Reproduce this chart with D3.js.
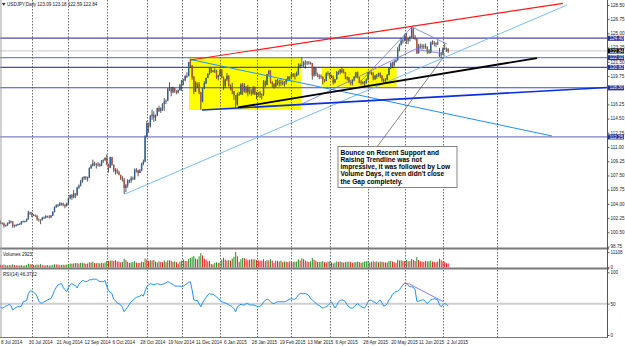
<!DOCTYPE html>
<html>
<head>
<meta charset="utf-8">
<script src="https://cdnjs.cloudflare.com/ajax/libs/d3/7.8.5/d3.min.js"></script>
<style>
  body { margin: 0; background: #fff; }
  svg { display: block; font-family: "Liberation Sans", Arial, sans-serif; }
</style>
</head>
<body>
<div id="chart"></div>
<script>
// ===========================================================
// DATA (USDJPY daily)
// ===========================================================
var dateLabels = ["8 Jul 2014", "30 Jul 2014", "21 Aug 2014", "12 Sep 2014", "6 Oct 2014", "28 Oct 2014",
    "19 Nov 2014", "11 Dec 2014", "6 Jan 2015", "28 Jan 2015", "19 Feb 2015", "13 Mar 2015", "6 Apr 2015",
    "28 Apr 2015", "20 May 2015", "11 Jun 2015", "2 Jul 2015"];
var dateIdx = [0, 16, 32, 48, 64, 80, 96, 112, 128, 144, 160, 176, 192, 208, 224, 240, 256];
var monthIdx = [18, 39, 61, 84, 104, 126, 147, 167, 189, 211, 232, 254, 285];

var priceTicks = [128.50, 126.75, 125.00, 123.25, 121.50, 119.75, 118.00, 116.25, 114.50, 112.75,
    111.00, 109.25, 107.50, 105.75, 104.00, 102.25, 100.50, 98.75];

var firstOpen = 101.60;
var gapOpens = [[252, 122.20]];

var closeP = [
    101.63, 101.60, 101.30, 101.33, 101.60, 101.75, 101.85, 101.30, 101.35, 101.40, 101.50, 101.50, 101.80, 101.85, 101.85, 102.10, 102.95, 102.80,
    102.60, 102.60, 102.55, 102.10, 102.05, 102.00, 102.30, 102.30, 102.50, 102.40, 102.35, 102.55, 103.00, 103.60, 103.80, 103.80, 104.05, 104.05, 103.85, 103.70, 104.10,
    104.70, 105.10, 104.80, 105.30, 105.10, 106.00, 106.25, 106.70, 107.15, 107.35, 107.20, 107.20, 108.40, 108.70, 109.00, 108.90, 108.85, 108.85, 108.70, 109.30, 109.40, 109.65,
    108.85, 108.45, 109.75, 108.80, 108.05, 108.15, 107.90, 107.60, 107.10, 107.00, 105.95, 106.30, 106.90, 106.90, 107.15, 107.05, 108.20, 108.15, 107.80, 108.10, 108.90, 109.20, 112.30,
    113.90, 113.55, 114.80, 115.00, 114.60, 114.90, 115.80, 115.45, 115.75, 116.30, 116.60, 116.70, 118.20, 118.25, 117.75, 118.30, 117.90, 117.70, 118.00, 118.65,
    119.25, 119.20, 119.75, 119.75, 121.45, 121.00, 119.60, 117.80, 118.90, 118.75, 117.75, 116.60, 118.25, 118.85, 119.50, 120.00, 120.80, 120.30, 120.40, 120.40, 119.60, 119.80,
    120.45, 119.60, 118.50, 119.30, 119.75, 118.55, 118.40, 117.90, 117.40, 116.25, 117.55, 117.55, 118.70, 117.90, 118.45, 117.75, 118.30, 117.90, 117.60, 118.30, 117.50,
    117.60, 117.70, 117.45, 117.50, 119.10, 118.65, 119.95, 120.40, 119.00, 118.75, 118.45, 119.25, 118.90, 118.95, 119.00, 118.85, 119.00, 119.30, 119.65, 119.55,
    120.00, 119.80, 119.75, 120.10, 120.80, 121.10, 121.10, 121.40, 121.35, 121.40, 121.35, 121.35, 119.80, 120.75, 120.00, 119.70, 119.75, 119.65, 119.25, 119.15, 120.05, 120.10,
    119.65, 119.75, 118.95, 119.35, 120.20, 120.20, 120.55, 120.25, 120.20, 119.45, 119.60, 119.00, 118.90, 119.20, 119.65, 120.20, 119.60, 118.90, 119.00, 118.90, 118.90, 119.35,
    120.20, 120.15, 120.15, 119.40, 119.75, 119.75, 120.10, 119.75, 119.20, 119.20, 119.30, 119.90, 120.70, 121.30, 121.05, 121.50, 121.70, 123.00, 123.60, 124.10, 124.10,
    124.75, 124.10, 124.30, 124.55, 125.60, 124.50, 124.35, 122.55, 123.45, 123.40, 123.40, 123.40, 123.35, 122.75, 122.60, 123.90, 123.85, 123.70, 123.75, 123.85, 122.50, 122.45,
    123.15, 123.15, 123.09, 122.84
];
var highP = [
    101.95, 101.75, 101.70, 101.45, 101.72, 102.00, 101.95, 101.85, 101.45, 101.50, 101.55, 101.65, 101.90, 101.95, 101.95, 102.20, 103.15, 103.05,
    103.00, 102.75, 102.70, 102.60, 102.20, 102.10, 102.40, 102.45, 102.60, 102.55, 102.60, 102.65, 103.10, 103.70, 103.95, 104.00, 104.20, 104.15, 104.15, 104.00, 104.15,
    104.80, 105.15, 105.20, 105.70, 105.30, 106.10, 106.40, 106.95, 107.30, 107.40, 107.40, 107.35, 108.50, 108.90, 109.45, 109.20, 109.05, 109.15, 109.00, 109.40, 109.50, 109.75,
    110.09, 108.95, 109.80, 109.80, 108.85, 108.40, 108.35, 108.10, 107.55, 107.40, 107.20, 106.45, 107.05, 107.00, 107.40, 107.35, 108.35, 108.40, 108.20, 108.30, 109.05, 109.45, 112.45,
    114.20, 114.00, 114.95, 115.60, 115.40, 115.00, 115.85, 116.10, 115.90, 116.40, 117.05, 116.85, 118.25, 118.98, 118.40, 118.45, 118.30, 118.00, 118.10, 118.80,
    119.25, 119.40, 119.85, 120.20, 121.50, 121.86, 121.10, 119.75, 119.10, 118.95, 119.00, 117.80, 118.30, 119.10, 119.55, 120.10, 120.85, 120.75, 120.50, 120.70, 120.50, 119.90,
    120.65, 120.60, 119.70, 119.40, 120.10, 119.85, 118.70, 118.90, 117.90, 117.40, 117.70, 117.80, 118.85, 118.90, 118.85, 118.50, 118.65, 118.40, 118.10, 118.50, 118.45,
    117.80, 117.75, 117.90, 117.60, 119.25, 119.20, 120.00, 120.50, 120.45, 119.10, 118.85, 119.30, 119.40, 119.30, 119.35, 119.20, 119.10, 119.40, 119.75, 119.70,
    120.20, 120.10, 120.10, 120.30, 121.30, 121.30, 122.03, 121.60, 121.70, 121.60, 121.60, 121.50, 121.35, 120.90, 120.75, 120.15, 119.95, 119.95, 119.70, 119.35, 120.20, 120.35,
    120.10, 119.90, 119.80, 119.40, 120.35, 120.40, 120.60, 120.85, 120.60, 120.25, 119.70, 119.60, 119.10, 119.35, 119.75, 120.25, 120.30, 119.60, 119.25, 119.10, 119.15, 119.45,
    120.25, 120.30, 120.30, 120.20, 119.90, 120.00, 120.15, 120.20, 119.85, 119.45, 119.50, 120.00, 120.80, 121.45, 121.50, 121.70, 121.80, 123.30, 123.75, 124.45, 124.30,
    124.95, 125.05, 124.45, 124.70, 125.86, 125.70, 124.80, 124.40, 123.70, 123.75, 123.70, 123.65, 123.75, 123.40, 123.05, 124.00, 124.15, 124.05, 123.90, 124.15, 123.20, 122.70,
    123.30, 123.75, 123.25, 123.18
];
var lowP = [
    101.50, 101.45, 101.07, 101.20, 101.30, 101.50, 101.60, 101.05, 101.10, 101.20, 101.30, 101.40, 101.45, 101.70, 101.70, 101.80, 102.05, 102.65,
    102.35, 102.50, 102.40, 101.95, 101.80, 101.50, 101.95, 102.15, 102.20, 102.30, 102.20, 102.25, 102.50, 102.95, 103.50, 103.60, 103.75, 103.80, 103.70, 103.45, 103.70,
    103.95, 104.55, 104.50, 104.70, 104.70, 104.95, 105.85, 106.15, 106.60, 106.95, 106.95, 106.75, 107.20, 108.30, 108.60, 108.65, 108.35, 108.60, 108.55, 108.65, 109.05, 109.25,
    108.75, 107.85, 108.40, 108.70, 107.90, 107.60, 107.70, 107.50, 106.95, 106.75, 105.20, 105.45, 106.00, 106.55, 106.60, 106.90, 106.95, 107.85, 107.40, 107.80, 108.00, 108.75, 109.10,
    112.20, 112.75, 113.40, 114.35, 114.10, 114.20, 114.80, 115.30, 115.20, 115.45, 115.45, 116.30, 116.65, 117.90, 117.25, 117.60, 117.70, 117.50, 117.60, 117.95,
    117.90, 118.60, 119.10, 119.50, 119.70, 120.80, 119.30, 117.50, 117.80, 118.30, 117.50, 115.57, 116.50, 118.15, 118.75, 119.50, 119.90, 120.10, 120.20, 120.10, 119.40, 119.20,
    119.70, 119.45, 118.05, 118.25, 119.10, 118.45, 118.00, 117.50, 116.80, 115.85, 116.10, 117.30, 117.40, 117.40, 117.70, 117.60, 117.25, 117.50, 117.30, 117.45, 117.40,
    116.90, 117.20, 117.05, 116.85, 117.30, 118.40, 118.60, 119.80, 118.85, 118.35, 118.20, 118.35, 118.60, 118.45, 118.55, 118.60, 118.45, 118.70, 119.10, 119.15,
    119.40, 119.60, 119.30, 119.70, 119.85, 120.70, 120.90, 120.85, 120.65, 121.10, 121.15, 121.15, 119.30, 119.65, 119.75, 119.60, 119.35, 119.40, 118.70, 118.95, 119.10, 119.80,
    119.40, 119.50, 118.70, 118.85, 119.30, 119.90, 119.95, 120.10, 120.05, 119.35, 119.20, 118.85, 118.60, 118.60, 119.10, 119.55, 119.45, 118.85, 118.65, 118.70, 118.50, 118.80,
    119.20, 119.95, 119.85, 119.20, 119.25, 119.40, 119.65, 119.50, 119.05, 118.90, 119.00, 119.20, 119.80, 120.60, 120.75, 120.90, 121.40, 121.60, 122.80, 123.50, 123.75,
    124.00, 123.70, 123.70, 124.00, 124.45, 124.35, 124.15, 122.45, 122.50, 123.10, 123.00, 123.05, 123.10, 122.45, 122.50, 122.55, 123.60, 123.40, 123.30, 123.55, 122.10, 121.95,
    122.30, 122.95, 122.70, 122.59
];

var volumes = [
    1850, 1700, 2100, 1600, 1500, 1700, 1650, 2300, 1800, 1500, 1600, 1450, 1700, 1300, 1500, 1800, 2700, 2300,
    2200, 1800, 1900, 2100, 2000, 2400, 1700, 1500, 1600, 1700, 1400, 1500, 1900, 2300, 2200, 2100, 1600, 1800, 2000, 1900, 2100,
    2500, 2900, 2700, 3000, 3100, 3200, 2800, 3300, 3400, 3000, 2700, 2900, 3800, 3500, 4100, 3200, 3000, 3300, 2900, 3400, 3100, 3600,
    4800, 4600, 5100, 5000, 4700, 5200, 4400, 4300, 3700, 4100, 6300, 5400, 4000, 3300, 3700, 3900, 4600, 3500, 3200, 3300, 4200, 3900, 6500,
    5600, 4700, 5300, 5000, 5400, 4200, 3700, 4400, 4000, 3800, 5000, 3900, 5200, 5100, 4800, 3900, 4400, 3800, 2700, 4200,
    4900, 5800, 4800, 4600, 6200, 6800, 7600, 8200, 6400, 5900, 8000, 10300, 8600, 6400, 5600, 4400, 4600, 2500, 2200, 3300, 3700, 3200,
    3600, 5600, 7100, 5600, 5000, 5300, 4900, 6400, 7800, 11108, 8000, 4100, 5900, 6900, 6700, 6000, 5200, 5600, 6000, 5800, 5900,
    5400, 5100, 5000, 4800, 6000, 4600, 5300, 5000, 5900, 4900, 3300, 4900, 4700, 4200, 4900, 3800, 4400, 4100, 3900, 4400,
    4300, 4000, 4200, 4300, 5900, 5000, 6600, 6000, 4800, 4300, 3900, 4400, 6800, 5600, 4900, 3900, 4000, 4200, 4700, 3900, 3600, 4200,
    4400, 3700, 3000, 3400, 4300, 4100, 4400, 3900, 3500, 4000, 4100, 4200, 4100, 3500, 3800, 3900, 4200, 3900, 3400, 3700, 4300, 4600,
    4800, 3600, 4100, 4500, 4000, 4400, 3700, 4300, 4100, 3800, 3600, 3600, 4600, 4700, 4300, 3800, 3200, 5600, 5000, 5200, 4700,
    4600, 5400, 4500, 4600, 6200, 5400, 4700, 7400, 5400, 4500, 4300, 4000, 4800, 4300, 4500, 4900, 4300, 4000, 3800, 4300, 6300, 5300,
    4400, 4200, 3100, 2923
];

var rsi14 = [
    45, 43, 44, 46, 47, 49, 47, 40, 42, 44, 45, 45, 46, 53, 54, 55, 66, 70, 70, 68,
    66, 62, 54, 51, 51, 53, 54, 56, 57, 58, 64, 71, 76, 80, 81, 82, 76, 72, 69, 76,
    80, 82, 80, 79, 75, 81, 84, 87, 86, 85, 86, 88, 88, 89, 89, 89, 87, 85, 85, 85,
    87, 78, 71, 68, 66, 57, 55, 51, 50, 48, 44, 37, 41, 45, 49, 53, 55, 58, 60, 61,
    62, 64, 62, 70, 77, 80, 82, 81, 80, 81, 82, 81, 80, 81, 82, 83, 85, 84, 82, 81,
    78, 78, 78, 78, 77, 78, 80, 82, 84, 85, 72, 56, 55, 55, 50, 45, 51, 56, 60, 64,
    66, 65, 65, 63, 61, 58, 56, 53, 52, 51, 50, 48, 47, 45, 42, 37, 45, 47, 49, 48,
    48, 50, 50, 48, 48, 48, 47, 46, 45, 46, 48, 53, 55, 57, 56, 53, 51, 50, 52, 53,
    53, 53, 53, 53, 54, 56, 57, 58, 57, 57, 60, 64, 66, 66, 66, 66, 65, 63, 58, 56,
    53, 51, 48, 47, 45, 43, 44, 45, 47, 50, 53, 48, 43, 47, 53, 55, 56, 55, 53, 48,
    45, 43, 43, 45, 48, 50, 48, 45, 44, 43, 47, 53, 56, 55, 53, 52, 50, 53, 56, 51,
    46, 47, 50, 56, 59, 65, 67, 69, 70, 72, 76, 80, 82, 82, 79, 77, 77, 76, 72, 54,
    54, 55, 56, 56, 53, 50, 53, 56, 57, 58, 57, 56, 48, 45, 49, 50, 49, 46.3722
];

// drawn objects, in [bar, price] points
var hLevels = [124.40, 122.02, 120.82, 118.30, 112.25];
var bidPrice = 122.84;
var box1 = [108.2, 172.5, 122.03, 115.56];
var box2 = [184.4, 227.4, 120.79, 118.43];
var redLine = [[109, 121.72], [322.9, 128.70]];
var skyLine = [[71.5, 105.22], [325.2, 128.49]];
var blackLine = [[136.3, 115.87], [308, 121.96]];
var blueLine = [[115.7, 115.56], [348.2, 118.33]];
var dodgerLine = [[109, 121.78], [316.6, 112.36]];
var pointerLine = [[216.1, 111.0], [255.2, 122.33]];
var violetLines = [
    [[171.9, 116.18], [240.8, 123.32]],
    [[207.5, 119.25], [236.2, 125.78]],
    [[236.2, 125.78], [256.3, 123.69]],
    [[239.7, 122.98], [255.2, 122.46]]
];
var rsiRedLine = [[231.8, 82.8], [235, 81.2]];
var rsiVioletLine = [[235, 80.9], [254.2, 53.1]];

var noteLines = ["Bounce on Recent Support and", "Raising Trendline was not",
    "impressive, it was followed by Low", "Volume Days, it even didn't close", "the Gap completely."];

// ===========================================================
// SVG + SCALES
// ===========================================================
var svgWidth = 625;
var svgHeight = 346;
var plotRight = 607;
var smallFont = '4.6px';

var svg = d3.select('#chart')
    .append('svg')
    .attr('width', svgWidth)
    .attr('height', svgHeight);

var x = d3.scaleLinear().domain([0, 257]).range([0.5, 448.2]);
var yPrice = d3.scaleLinear().domain([98.75, 128.5]).range([246.5, 4.93]);
var yVol = d3.scaleLinear().domain([0, 11108]).range([267.5, 252]);
var yRsi = d3.scaleLinear().domain([0, 100]).range([335, 272.3]);

var defs = svg.append('defs');
defs.append('clipPath').attr('id', 'clipMain')
    .append('rect').attr('x', 0).attr('y', 0).attr('width', plotRight).attr('height', 247);
defs.append('clipPath').attr('id', 'clipRsi')
    .append('rect').attr('x', 0).attr('y', 270).attr('width', plotRight).attr('height', 67);

var main = svg.append('g').attr('clip-path', 'url(#clipMain)');

// ===========================================================
// BACKGROUND OBJECTS + GRID
// ===========================================================
[box1, box2].forEach(function(b) {
    main.append('rect')
        .attr('x', x(b[0])).attr('y', yPrice(b[2]))
        .attr('width', x(b[1]) - x(b[0]))
        .attr('height', yPrice(b[3]) - yPrice(b[2]))
        .attr('fill', '#ffff00');
});

svg.append('g').selectAll('line')
    .data(monthIdx)
    .enter()
    .append('line')
    .attr('x1', d => Math.round(x(d)) + 0.5).attr('x2', d => Math.round(x(d)) + 0.5)
    .attr('y1', 0).attr('y2', 337)
    .attr('stroke', '#444')
    .attr('stroke-width', 0.8)
    .attr('stroke-dasharray', '1.5,1.5');

// horizontal levels
main.append('line')
    .attr('x1', 0).attr('x2', plotRight)
    .attr('y1', yPrice(bidPrice)).attr('y2', yPrice(bidPrice))
    .attr('stroke', '#c8c8c8').attr('stroke-width', 1);

main.selectAll('.hlev')
    .data(hLevels)
    .enter()
    .append('line')
    .attr('class', 'hlev')
    .attr('x1', 0).attr('x2', plotRight)
    .attr('y1', d => yPrice(d)).attr('y2', d => yPrice(d))
    .attr('stroke', (d, i) => (i === 1 || i === 4) ? '#8080cc' : '#4a4aa8')
    .attr('stroke-width', 1.2);

// ===========================================================
// CANDLES
// ===========================================================
function openOf(i) {
    var g = gapOpens.find(p => p[0] === i);
    if (g) return g[1];
    return i === 0 ? firstOpen : closeP[i - 1];
}

var candles = main.append('g').selectAll('g')
    .data(closeP)
    .enter()
    .append('g');

candles.append('line')
    .attr('x1', (d, i) => x(i)).attr('x2', (d, i) => x(i))
    .attr('y1', (d, i) => yPrice(highP[i]))
    .attr('y2', (d, i) => yPrice(lowP[i]))
    .attr('stroke', '#111')
    .attr('stroke-width', 0.7);

candles.append('rect')
    .attr('x', (d, i) => x(i) - 0.7)
    .attr('width', 1.4)
    .attr('y', (d, i) => yPrice(Math.max(d, openOf(i))))
    .attr('height', (d, i) => Math.max(0.7, Math.abs(yPrice(d) - yPrice(openOf(i)))))
    .attr('fill', (d, i) => d >= openOf(i) ? '#2f5f96' : '#b0533c');

// ===========================================================
// TRENDLINES
// ===========================================================
function drawSeg(pts, color, width, dash) {
    main.append('line')
        .attr('x1', x(pts[0][0])).attr('y1', yPrice(pts[0][1]))
        .attr('x2', x(pts[1][0])).attr('y2', yPrice(pts[1][1]))
        .attr('stroke', color)
        .attr('stroke-width', width)
        .attr('stroke-dasharray', dash || null);
}

drawSeg(skyLine, '#6ab4ff', 0.9);
drawSeg(dodgerLine, '#1e90ff', 1);
violetLines.forEach(v => drawSeg(v, '#7070f0', 0.8));
drawSeg(blueLine, '#0a2ee0', 1.6);
drawSeg(blackLine, '#000', 1.8);
drawSeg(redLine, '#ff1a1a', 1.2);
drawSeg(pointerLine, '#555', 0.7);

// ===========================================================
// NOTE BOX
// ===========================================================
var note = svg.append('g').attr('transform', 'translate(338,146.5)');
note.append('rect')
    .attr('width', 119).attr('height', 41)
    .attr('fill', '#fff')
    .attr('stroke', '#666')
    .attr('stroke-width', 0.8);
note.selectAll('text')
    .data(noteLines)
    .enter()
    .append('text')
    .attr('x', 2.5)
    .attr('y', (d, i) => 8.3 + i * 7.2)
    .style('font-size', '6.6px')
    .style('font-weight', 'bold')
    .attr('fill', '#000')
    .text(d => d);

// ===========================================================
// VOLUME + RSI PANES
// ===========================================================
svg.append('g').selectAll('line')
    .data(volumes)
    .enter()
    .append('line')
    .attr('x1', (d, i) => x(i)).attr('x2', (d, i) => x(i))
    .attr('y1', yVol(0)).attr('y2', d => yVol(d))
    .attr('stroke', (d, i) => (i > 0 && d > volumes[i - 1]) ? '#1f8f1f' : '#ee1c1c')
    .attr('stroke-width', 1);

svg.append('line')
    .attr('x1', 0).attr('x2', plotRight)
    .attr('y1', yRsi(50)).attr('y2', yRsi(50))
    .attr('stroke', '#cfcfcf').attr('stroke-width', 2);

var rsiG = svg.append('g').attr('clip-path', 'url(#clipRsi)');
rsiG.append('path')
    .datum(rsi14)
    .attr('fill', 'none')
    .attr('stroke', '#1e90ff')
    .attr('stroke-width', 1)
    .attr('d', d3.line().x((d, i) => x(i)).y(d => yRsi(d)));

[[rsiRedLine, '#ff5050'], [rsiVioletLine, '#7070f0']].forEach(function(r) {
    rsiG.append('line')
        .attr('x1', x(r[0][0][0])).attr('y1', yRsi(r[0][0][1]))
        .attr('x2', x(r[0][1][0])).attr('y2', yRsi(r[0][1][1]))
        .attr('stroke', r[1]).attr('stroke-width', 0.9);
});

// separators and frame
[248.5, 268.5].forEach(function(yy) {
    svg.append('line')
        .attr('x1', 0).attr('x2', plotRight + 2)
        .attr('y1', yy).attr('y2', yy)
        .attr('stroke', '#7a7a7a').attr('stroke-width', 2);
});
svg.append('line').attr('x1', 0).attr('x2', plotRight + 1).attr('y1', 337.5).attr('y2', 337.5)
    .attr('stroke', '#7a7a7a').attr('stroke-width', 1);
svg.append('line').attr('x1', 1).attr('x2', 1).attr('y1', 0).attr('y2', 337)
    .attr('stroke', '#a0a0a0').attr('stroke-width', 1);
svg.append('line').attr('x1', plotRight + 0.5).attr('x2', plotRight + 0.5).attr('y1', 0).attr('y2', 337.5)
    .attr('stroke', '#555').attr('stroke-width', 1);

// ===========================================================
// AXES
// ===========================================================
function styleAxis(g) {
    g.select('.domain').remove();
    g.attr('font-family', null).attr('font-size', null);
    g.selectAll('line').attr('stroke', '#555');
    g.selectAll('text').style('font-size', smallFont).attr('fill', '#222');
}

var boxPrices = hLevels.concat([bidPrice]);
// tick labels hidden where an object price box sits on top of them
var shownTicks = priceTicks.filter(t => boxPrices.every(b => Math.abs(yPrice(t) - yPrice(b)) > 3));

svg.append('g')
    .attr('transform', 'translate(' + (plotRight + 0.5) + ',0)')
    .call(d3.axisRight(yPrice).tickValues(shownTicks).tickSize(2).tickPadding(1).tickFormat(d3.format('.2f')))
    .call(styleAxis)
    .selectAll('text').attr('dy', '0.28em');

svg.append('g')
    .attr('transform', 'translate(' + (plotRight + 0.5) + ',0)')
    .call(d3.axisRight(yVol).tickValues([11108, 0]).tickSize(2).tickPadding(1).tickFormat(d3.format('d')))
    .call(styleAxis);

svg.append('g')
    .attr('transform', 'translate(' + (plotRight + 0.5) + ',0)')
    .call(d3.axisRight(yRsi).tickValues([100, 50, 0]).tickSize(2).tickPadding(1))
    .call(styleAxis);

var dateAxis = svg.append('g')
    .attr('transform', 'translate(0,337.5)')
    .call(d3.axisBottom(x).tickValues(dateIdx).tickSize(0).tickPadding(3)
        .tickFormat((d, i) => dateLabels[i]))
    .call(styleAxis);
dateAxis.selectAll('text').attr('text-anchor', 'start');

// price boxes on the axis
var boxes = hLevels.map(p => ({ p: p, c: '#2d2d8c' })).concat([{ p: bidPrice, c: '#000' }]);
var boxG = svg.append('g').selectAll('g')
    .data(boxes)
    .enter()
    .append('g')
    .attr('transform', d => 'translate(' + (plotRight + 1) + ',' + yPrice(d.p) + ')');
boxG.append('rect')
    .attr('x', 0).attr('y', -2.4).attr('width', 16).attr('height', 5)
    .attr('fill', d => d.c);
boxG.append('text')
    .attr('x', 1.5).attr('y', 1.7)
    .style('font-size', smallFont)
    .attr('fill', '#fff')
    .text(d => d.p.toFixed(2));

// ===========================================================
// TITLES
// ===========================================================
var last = closeP.length - 1;
svg.append('path').attr('d', 'M2,3 L5.5,3 L3.75,5.8 Z').attr('fill', '#222');
svg.append('text')
    .attr('x', 7).attr('y', 6.3)
    .style('font-size', smallFont)
    .attr('fill', '#111')
    .text('USDJPY,Daily  ' + openOf(last).toFixed(2) + ' ' + highP[last].toFixed(2) + ' ' +
        lowP[last].toFixed(2) + ' ' + closeP[last].toFixed(2));
svg.append('text')
    .attr('x', 3).attr('y', 255.5)
    .style('font-size', smallFont)
    .attr('fill', '#111')
    .text('Volumes ' + volumes[last]);
svg.append('text')
    .attr('x', 3).attr('y', 276)
    .style('font-size', smallFont)
    .attr('fill', '#111')
    .text('RSI(14) ' + rsi14[last].toFixed(4));
</script>
</body>
</html>
